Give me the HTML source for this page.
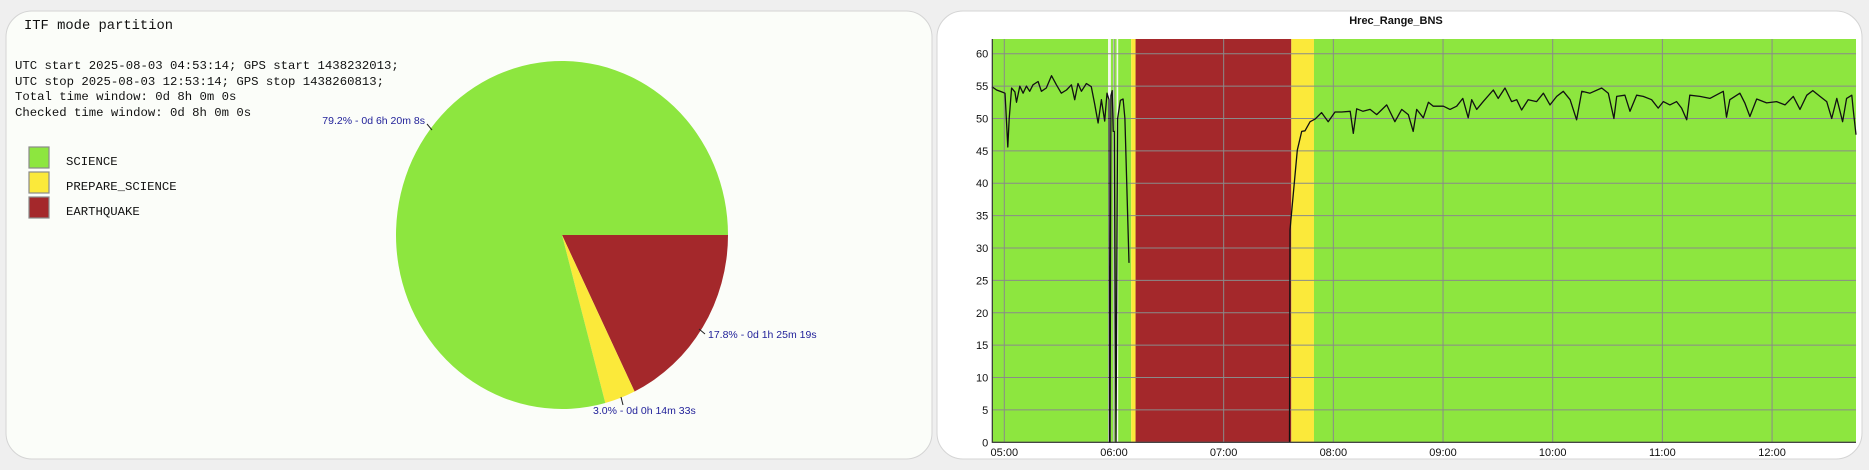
<!DOCTYPE html>
<html><head><meta charset="utf-8">
<style>
html,body{margin:0;padding:0;background:#efefef;width:1869px;height:470px;overflow:hidden}
svg{display:block}
.mono{font-family:"Liberation Mono","DejaVu Sans Mono",monospace}
.sans{font-family:"Liberation Sans","DejaVu Sans",sans-serif}
</style></head>
<body>
<svg id="root" width="1869" height="470" viewBox="0 0 1869 470">
  <rect x="6" y="11" width="926" height="448" rx="26" fill="#fbfdf9" stroke="#d4d4d4"/>
  <rect x="937" y="11" width="925" height="448" rx="26" fill="#ffffff" stroke="#d4d4d4"/>
  <text x="24" y="29" class="mono" font-size="13.8" fill="#111">ITF mode partition</text>
  <g class="mono" font-size="12.3" fill="#111">
    <text x="15" y="69">UTC start 2025-08-03 04:53:14; GPS start 1438232013;</text>
    <text x="15" y="85">UTC stop 2025-08-03 12:53:14; GPS stop 1438260813;</text>
    <text x="15" y="100">Total time window: 0d 8h 0m 0s</text>
    <text x="15" y="116">Checked time window: 0d 8h 0m 0s</text>
  </g>
  <g id="legend"></g>
  <g id="pie"></g>
  <text x="1396" y="24" text-anchor="middle" class="sans" font-size="11" font-weight="bold" fill="#111">Hrec_Range_BNS</text>
  <g id="chart"></g>
</svg>
<script>
// ---- pie data ----
const pieLabels = ["EARTHQUAKE","PREPARE_SCIENCE","SCIENCE"];
const piePercents = [17.8, 3.0, 79.2];
const pieTexts = ["17.8% - 0d 1h 25m 19s","3.0% - 0d 0h 14m 33s","79.2% - 0d 6h 20m 8s"];
const pieColors = ["#a4282b","#fbe93a","#8de63f"];
const legendOrder = ["SCIENCE","PREPARE_SCIENCE","EARTHQUAKE"];

// ---- line chart data ----
const timeMinutes = [-6.8,-4.2,-1.4,0.4,0.9,1.9,2.7,4,5.8,6.7,8.5,10.3,12.1,13.9,15.7,18.5,20.3,23,25.8,28.5,31.2,34,36.7,38.5,40.3,42.2,44.9,47.6,49.4,51.3,53.1,54.9,56.2,57.3,57.5,57.9,58.3,59.0,59.6,60.2,61.1,62.0,63.5,65.0,66.0,68.2,
 112,
 156.0,156.3,160.3,162.7,164.5,167.3,170,173.6,177.2,180.9,184.6,189.2,190.9,192.8,196.2,200.1,203.7,209.2,213.7,217.4,221,223.7,225.6,229.2,232,234.7,240.2,243.8,247.5,250.8,253.8,255.7,258.4,262,267.5,270.2,273.9,277.5,280.3,283,286.6,291.2,294.9,298.5,302.2,305.8,309.5,313.1,315.9,320.4,326.8,330.4,333.5,335,339.5,342.3,345.9,349.5,354.1,357.7,360.5,364.1,367.8,370.5,373.3,375,380.5,386,393.3,395.1,396.9,402.4,405.1,407.9,411.6,417,422.5,427.1,431.6,435.3,439,442.3,446.2,449.9,452.6,455.4,458.6,460.8,463.6,464.4,465.9];
const rangeValues = [54.9,54.4,54.1,53.9,51.3,45.6,50,54.7,54.1,52.5,55,53.9,55,54.2,55.2,55.7,54.2,54.7,56.6,55.2,53.9,54.4,55.2,52.9,55.4,54.2,55.4,54.9,52.3,49.3,52.9,49.6,53.9,52.9,0,0,53.5,54.3,48,48,0,50,52.8,53,50,27.7,
 null,
 0,32.8,45.1,48,48.1,49.5,49.9,50.9,49.5,51,51,51.1,47.7,51.5,51.1,51.4,50.6,52.1,49.5,51.4,50.6,48,51.4,50.1,52.5,51.9,51.9,51.4,51.9,53.1,50.1,52.9,51.4,52.6,54.4,53.1,54.7,52.6,52.9,51.3,52.9,52.6,53.9,52.1,53.4,54.2,52.9,49.8,54.2,53.9,54.7,53.9,50,53.4,53.6,51.1,53.6,53.4,52.9,51.6,52.6,52.1,52.6,51.6,49.8,53.6,53.4,53.1,54.2,50.2,52.9,53.9,52.4,50.3,53,52.4,52.6,52.1,53.4,51.4,53.6,54.3,53.4,52.6,50,53.1,49.5,53.1,53.6,51.4,47.5];
const bandStarts = [-6.8,56.8,58.3,59.5,60.2,61.5,62.3,69.4,71.8,157,169.4];
const bandEnds   = [56.8,58.3,59.5,60.2,61.5,62.3,69.4,71.8,157,169.4,467];
const bandStates = ["SCIENCE","GAP","SCIENCE","GAP","SCIENCE","GAP","SCIENCE","PREPARE_SCIENCE","EARTHQUAKE","PREPARE_SCIENCE","SCIENCE"];
const yTicks = [0,5,10,15,20,25,30,35,40,45,50,55,60];
const xTickMinutes = [0,60,120,180,240,300,360,420];
const xTickLabels = ["05:00","06:00","07:00","08:00","09:00","10:00","11:00","12:00"];

const NS = "http://www.w3.org/2000/svg";
function mk(tag, attrs, parent){const e=document.createElementNS(NS,tag);for(const k in attrs)e.setAttribute(k,attrs[k]);parent.appendChild(e);return e;}
const stateColor = {SCIENCE:"#8de63f",PREPARE_SCIENCE:"#fbe93a",EARTHQUAKE:"#a4282b",GAP:"#f4f7ee"};

// ---- legend ----
const lg = document.getElementById("legend");
legendOrder.forEach((name,i)=>{
  const c = pieColors[pieLabels.indexOf(name)];
  const r = mk("rect",{x:29,y:147+i*25,width:20,height:21,fill:c,stroke:"#8a8a8a","stroke-width":1.2},lg);
  
  
  const t = mk("text",{x:66,y:165+i*25,"font-size":"12.3",fill:"#111",class:"mono"},lg);
  t.textContent = name;
  
  
});

// ---- pie ----
const pg = document.getElementById("pie");
const cx=562, cy=235, rx=166, ry=174;
const total = piePercents.reduce((a,b)=>a+b,0);
let a0 = 0;
const labelPos = [[708,338,"start"],[593,414,"start"],[425,124,"end"]];
const leadPos = [[[699,329],[705,334]],[[621,397],[623,405]],[[427,124],[432,130]]];
piePercents.forEach((p,i)=>{
  const a1 = a0 + p/total*2*Math.PI;
  const x0=cx+rx*Math.cos(a0), y0=cy+ry*Math.sin(a0);
  const x1=cx+rx*Math.cos(a1), y1=cy+ry*Math.sin(a1);
  const large = (a1-a0)>Math.PI?1:0;
  const path = mk("path",{d:`M${cx},${cy} L${x0},${y0} A${rx},${ry} 0 ${large} 1 ${x1},${y1} Z`,fill:pieColors[i]},pg);
  
  
  const lp = leadPos[i];
  const ln = mk("line",{x1:lp[0][0],y1:lp[0][1],x2:lp[1][0],y2:lp[1][1],stroke:"#222","stroke-width":1},pg);
  
  
  const t = mk("text",{x:labelPos[i][0],y:labelPos[i][1],"text-anchor":labelPos[i][2],"font-size":"10.5",fill:"#22229a",class:"sans"},pg);
  t.textContent = pieTexts[i];
  
  
  a0 = a1;
});

// ---- line chart ----
const ch = document.getElementById("chart");
const L=992.3, R=1856, T=39, B=442.3;
const xOf = m => 1004.3 + m*1.828;
const yOf = v => B - v*(B-53.7)/60;
bandStarts.forEach((s,i)=>{
  const x0=Math.max(L,xOf(s)), x1=Math.min(R,xOf(bandEnds[i]));
  const r = mk("rect",{x:x0,y:T,width:Math.max(0,x1-x0),height:B-T,fill:stateColor[bandStates[i]]},ch);
  
  
});
yTicks.forEach(v=>{
  const y=yOf(v);
  const g = mk("line",{x1:L,x2:R,y1:y,y2:y,stroke:"#8a8a8a","stroke-width":1},ch);
  
  
  const t = mk("text",{x:L-4,y:y+4,"text-anchor":"end","font-size":"11",fill:"#111",class:"sans"},ch);
  t.textContent = v;
  
  
});
xTickMinutes.forEach((m,i)=>{
  const x=xOf(m);
  const g = mk("line",{x1:x,x2:x,y1:T,y2:B,stroke:"#8a8a8a","stroke-width":1},ch);
  
  
  const t = mk("text",{x:x,y:456,"text-anchor":"middle","font-size":"11",fill:"#111",class:"sans"},ch);
  t.textContent = xTickLabels[i];
  
  
});
let d="", pen=false;
timeMinutes.forEach((m,i)=>{
  const v=rangeValues[i];
  if(v===null){pen=false;return;}
  d += (pen?"L":"M")+xOf(m).toFixed(1)+","+yOf(v).toFixed(1)+" ";
  pen=true;
});
const line = mk("path",{d:d,fill:"none",stroke:"#111","stroke-width":1.3,"stroke-linejoin":"round"},ch);


const ax = mk("path",{d:`M${L},${T} L${L},${B} L${R},${B}`,fill:"none",stroke:"#333","stroke-width":1.2},ch);


</script>
</body></html>
